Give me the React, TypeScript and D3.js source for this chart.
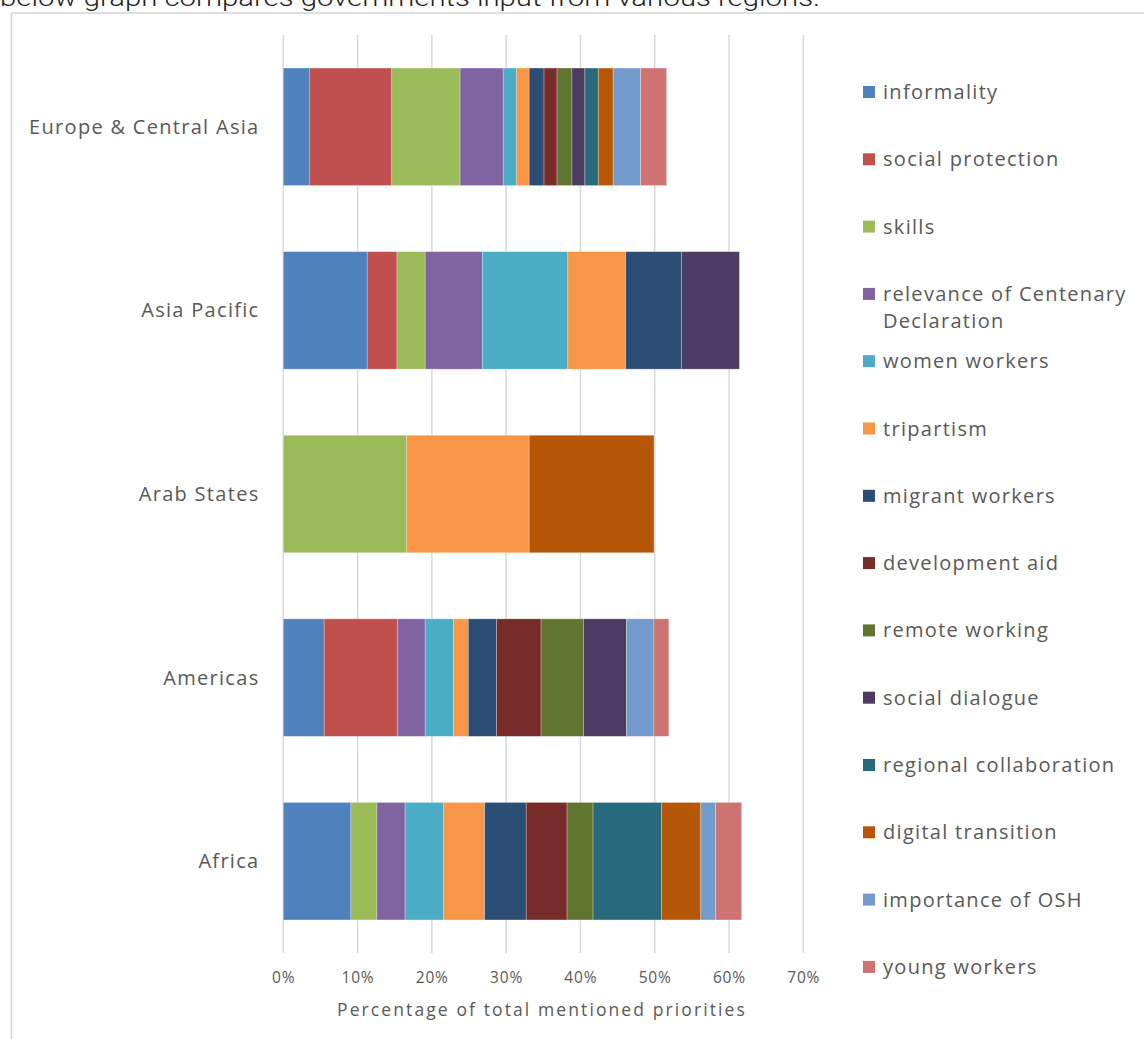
import React from "react";
import * as d3 from "d3";

const regions = ["Europe & Central Asia", "Asia Pacific", "Arab States", "Americas", "Africa"];

const priorities = [
  "informality",
  "social protection",
  "skills",
  "relevance of Centenary Declaration",
  "women workers",
  "tripartism",
  "migrant workers",
  "development aid",
  "remote working",
  "social dialogue",
  "regional collaboration",
  "digital transition",
  "importance of OSH",
  "young workers",
];

const colors = [
  "#4F81BD", "#C0504D", "#9BBB59", "#8064A2", "#4BACC6", "#F79646", "#2C4D75",
  "#772C2A", "#5F7530", "#4D3B62", "#276A7C", "#B65708", "#729ACA", "#CD7371",
];

// values per priority, in region order [Europe & CA, Asia Pacific, Arab States, Americas, Africa], percent
const informality = [3.5, 11.3, 0, 5.5, 9.1];
const socialProtection = [11.1, 4.0, 0, 9.9, 0];
const skills = [9.2, 3.8, 16.6, 0, 3.5];
const relevance = [5.8, 7.7, 0, 3.7, 3.8];
const womenWorkers = [1.8, 11.5, 0, 3.8, 5.2];
const tripartism = [1.7, 7.8, 16.5, 2.0, 5.5];
const migrantWorkers = [2.0, 7.5, 0, 3.8, 5.6];
const developmentAid = [1.75, 0, 0, 6.0, 5.5];
const remoteWorking = [2.0, 0, 0, 5.7, 3.5];
const socialDialogue = [1.75, 7.8, 0, 5.8, 0];
const regionalCollaboration = [1.8, 0, 0, 0, 9.2];
const digitalTransition = [2.0, 0, 16.8, 0, 5.3];
const importanceOSH = [3.7, 0, 0, 3.7, 2.0];
const youngWorkers = [3.5, 0, 0, 2.0, 3.5];

const seriesValues = [
  informality, socialProtection, skills, relevance, womenWorkers, tripartism, migrantWorkers,
  developmentAid, remoteWorking, socialDialogue, regionalCollaboration, digitalTransition,
  importanceOSH, youngWorkers,
];

const xTicks = [0, 0.1, 0.2, 0.3, 0.4, 0.5, 0.6, 0.7];

const W = 1144;
const H = 1039;
const FONT = "'Open Sans', 'DejaVu Sans', sans-serif";
const TEXT = "#595959";

export default function App() {
  const table = regions.map((r, i) => {
    const row: any = { region: r };
    priorities.forEach((p, j) => (row[p] = seriesValues[j][i] / 100));
    return row;
  });
  const stacked = d3.stack().keys(priorities)(table);

  const x = d3.scaleLinear().domain([0, 0.7]).range([283.3, 803.3]);
  const y = d3.scaleBand().domain(regions).range([35, 953]).paddingInner(0.36).paddingOuter(0.18);

  const legendY0 = 92;
  const legendStep = 67.3;

  return (
    <svg
      width={W}
      height={H}
      style={{ position: "absolute", left: 0, top: 0, background: "#fff" }}
    >
      <text
        x={0}
        y={6}
        fontFamily="Roboto, sans-serif"
        fontWeight={300}
        fontSize={24}
        fill="#222"
        textLength={820}
        lengthAdjust="spacingAndGlyphs"
      >
        below graph compares governments input from various regions.
      </text>
      <line x1={11.5} x2={11.5} y1={13} y2={H} stroke="#d4d4d4" strokeWidth={1.5} />
      <line x1={11.5} x2={W} y1={13} y2={13} stroke="#d4d4d4" strokeWidth={1.5} />

      {xTicks.map((t) => (
        <line key={t} x1={x(t)} x2={x(t)} y1={35} y2={953} stroke="#d9d9d9" strokeWidth={1.5} />
      ))}

      {stacked.map((s, j) => (
        <g key={s.key} fill={colors[j]}>
          {s.map((d, i) =>
            d[1] - d[0] > 0 ? (
              <rect
                key={i}
                x={x(d[0])}
                y={y(regions[i])}
                width={x(d[1]) - x(d[0])}
                height={y.bandwidth()}
                stroke="#ffffff"
                strokeOpacity={0.35}
                strokeWidth={0.75}
              />
            ) : null
          )}
        </g>
      ))}

      {regions.map((r) => (
        <text
          key={r}
          x={259.5}
          y={(y(r) as number) + y.bandwidth() / 2}
          dy="0.35em"
          textAnchor="end"
          fontFamily={FONT}
          fontSize={20}
          letterSpacing={1.3}
          fill={TEXT}
        >
          {r}
        </text>
      ))}

      {xTicks.map((t) => (
        <text
          key={t}
          x={x(t) + 0.4}
          y={978}
          dy="0.35em"
          textAnchor="middle"
          fontFamily={FONT}
          fontSize={15.5}
          letterSpacing={0.8}
          fill={TEXT}
        >
          {d3.format(".0%")(t)}
        </text>
      ))}
      <text
        x={542}
        y={1010}
        dy="0.35em"
        textAnchor="middle"
        fontFamily={FONT}
        fontSize={17.5}
        letterSpacing={2.1}
        fill={TEXT}
      >
        Percentage of total mentioned priorities
      </text>

      {priorities.map((p, j) => {
        const cy = legendY0 + j * legendStep;
        const lines = p === "relevance of Centenary Declaration" ? ["relevance of Centenary", "Declaration"] : [p];
        return (
          <g key={p}>
            <rect x={863} y={cy - 6} width={12} height={12} fill={colors[j]} />
            {lines.map((ln, k) => (
              <text
                key={k}
                x={883}
                y={cy + k * 27}
                dy="0.35em"
                fontFamily={FONT}
                fontSize={20}
                letterSpacing={1.3}
                fill={TEXT}
              >
                {ln}
              </text>
            ))}
          </g>
        );
      })}
    </svg>
  );
}
